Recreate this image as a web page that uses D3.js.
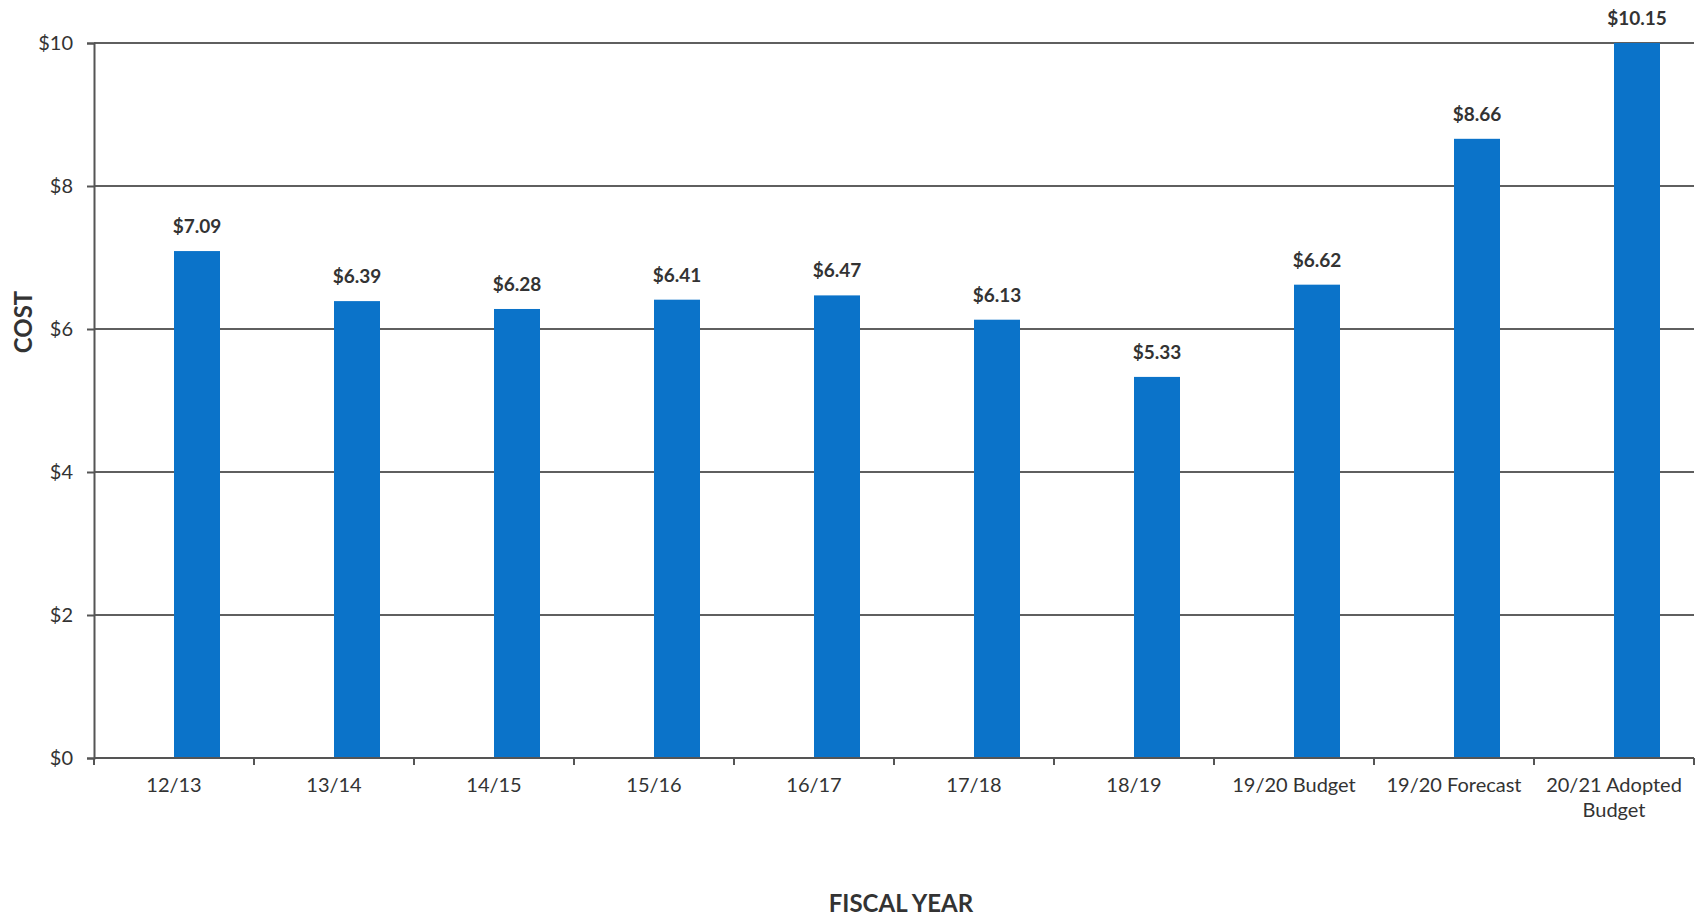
<!DOCTYPE html>
<html>
<head>
<meta charset="utf-8">
<script src="https://cdn.jsdelivr.net/npm/d3@7"></script>
<style>
  html, body { margin: 0; padding: 0; background: #fff; }
  svg { display: block; }
  text { font-family: Lato, "Noto Sans", sans-serif; fill: #333; }
</style>
</head>
<body>
<svg id="chart" width="1697" height="916"></svg>
<script>
// Cost per fiscal year
const categories = ["12/13", "13/14", "14/15", "15/16", "16/17", "17/18", "18/19", "19/20 Budget", "19/20 Forecast", "20/21 Adopted Budget"];
const costs = [7.09, 6.39, 6.28, 6.41, 6.47, 6.13, 5.33, 6.62, 8.66, 10.15];
const yTicks = [0, 2, 4, 6, 8, 10];

const svg = d3.select("#chart");
const margin = { left: 94, right: 3, top: 43, bottom: 158 };
const W = 1697, H = 916;
const innerW = W - margin.left - margin.right;
const innerH = H - margin.top - margin.bottom;

const g = svg.append("g").attr("transform", `translate(${margin.left},${margin.top})`);

const x = d3.scaleBand().domain(categories).range([0, innerW]);
const y = d3.scaleLinear().domain([0, 10]).range([innerH, 0]).clamp(true);
const barW = 46;

// horizontal gridlines
g.append("g").selectAll("line").data(yTicks.filter(t => t > 0)).join("line")
  .attr("x1", 0).attr("x2", innerW)
  .attr("y1", d => y(d)).attr("y2", d => y(d))
  .attr("stroke", "#5f5f5f").attr("stroke-width", 2);

// y axis
const yAxis = g.append("g").call(
  d3.axisLeft(y).tickValues(yTicks).tickSize(7).tickPadding(14).tickFormat(d => "$" + d)
);
yAxis.select(".domain").attr("stroke", "#555").attr("stroke-width", 2);
yAxis.selectAll(".tick line").attr("stroke", "#555").attr("stroke-width", 2);
yAxis.selectAll("text").attr("font-size", 20).attr("fill", "#333")
  .style("font-family", "Lato, 'Noto Sans', sans-serif");

// bars (each sits in the right half of its category slot)
g.append("g").selectAll("rect").data(costs).join("rect")
  .attr("x", (d, i) => x(categories[i]) + x.bandwidth() / 2)
  .attr("y", d => y(d))
  .attr("width", barW)
  .attr("height", d => innerH - y(d))
  .attr("fill", "#0b73c9");

// value labels
g.append("g").selectAll("text").data(costs).join("text")
  .attr("x", (d, i) => x(categories[i]) + x.bandwidth() / 2 + barW / 2)
  .attr("y", d => y(d) - 18)
  .attr("text-anchor", "middle")
  .attr("font-size", 19).attr("font-weight", 700)
  .text(d => "$" + d.toFixed(2));

// x axis
const xAxisG = g.append("g").attr("transform", `translate(0,${innerH})`);
xAxisG.append("line").attr("x1", 0).attr("x2", innerW).attr("y1", 0).attr("y2", 0)
  .attr("stroke", "#555").attr("stroke-width", 2);
const bounds = d3.range(categories.length + 1).map(i => i * x.step());
xAxisG.selectAll("line.tk").data(bounds).join("line").attr("class", "tk")
  .attr("x1", d => d).attr("x2", d => d).attr("y1", 0).attr("y2", 7)
  .attr("stroke", "#555").attr("stroke-width", 2);

// category labels, wrapped to two lines where needed
const wrapped = { "20/21 Adopted Budget": ["20/21 Adopted", "Budget"] };
xAxisG.selectAll("text.cat").data(categories).join("text").attr("class", "cat")
  .attr("text-anchor", "middle").attr("font-size", 20)
  .attr("transform", d => `translate(${x(d) + x.bandwidth() / 2},${34})`)
  .each(function (d) {
    const lines = wrapped[d] || [d];
    d3.select(this).selectAll("tspan").data(lines).join("tspan")
      .attr("x", 0).attr("dy", (l, i) => i === 0 ? 0 : 25).text(l => l);
  });

// axis titles
svg.append("text").attr("x", margin.left + innerW / 2 + 7).attr("y", 912)
  .attr("text-anchor", "middle").attr("font-size", 24).attr("font-weight", 700)
  .text("FISCAL YEAR");

svg.append("text").attr("transform", `translate(32,322) rotate(-90)`)
  .attr("text-anchor", "middle").attr("font-size", 24).attr("font-weight", 700)
  .text("COST");
</script>
</body>
</html>
